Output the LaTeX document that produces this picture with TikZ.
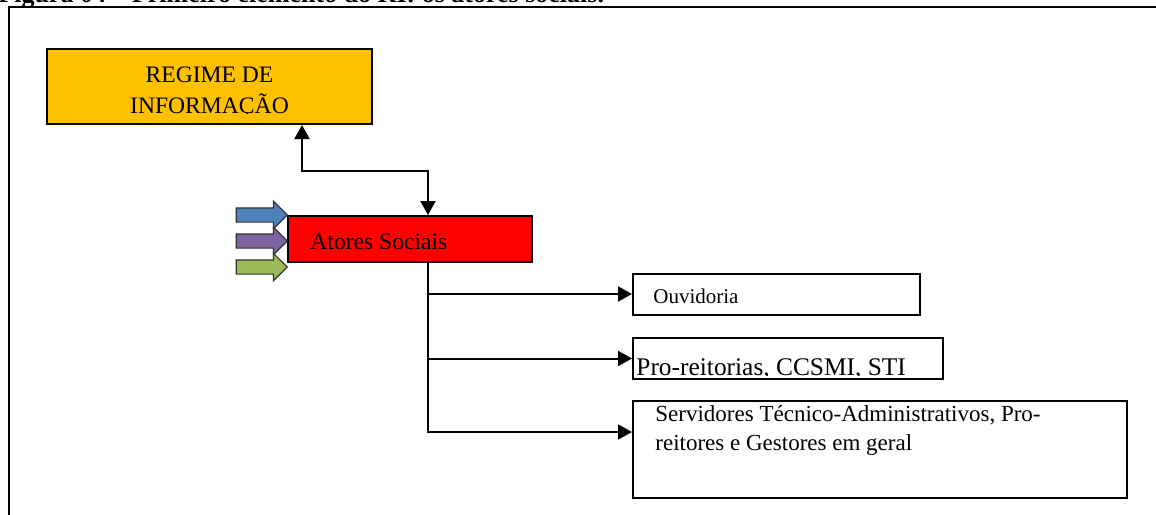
\documentclass[tikz,border=0pt]{standalone}
\usepackage{fontspec}
\setmainfont{Liberation Serif}
\usetikzlibrary{shapes,shapes.arrows,arrows.meta,positioning,calc}

\definecolor{regimeorange}{HTML}{FFC000}
\definecolor{atoresred}{HTML}{FF0000}
\definecolor{inblue}{HTML}{4F81BD}
\definecolor{inpurple}{HTML}{8064A2}
\definecolor{ingreen}{HTML}{9BBB59}

\begin{document}
\begin{tikzpicture}[
    x=1pt, y=-1pt,
    >={Triangle[length=7pt,width=7.5pt]},
    box/.style={rectangle, draw, line width=1pt, inner sep=0pt},
    txt/.style={anchor=base west, inner sep=0pt, align=left},
    inarrow/.style={single arrow, draw=black!80, line width=0.6pt, minimum height=25.5pt, minimum width=13pt, single arrow head extend=3.25pt, inner xsep=0pt, inner ysep=3.25pt, anchor=tip},
    arrow/.style={->, line width=1pt},
    frame/.style={line width=1pt}
]
\useasboundingbox (0,0) rectangle (578,257);
\clip (0,0) rectangle (578,257);

% caption, cut off by the page edge
\node[txt, font=\bfseries\fontsize{13}{15}\selectfont] (caption) at (-1,1.5) {Figura 04 – Primeiro elemento do RI: os atores sociais.};
\draw[frame] (4.25,300) |- (600,3.25);

\node[box, fill=regimeorange, minimum width=162.5pt, minimum height=37.5pt] (regime) at (104.75,43.25) {};
\node[box, fill=atoresred, minimum width=122pt, minimum height=23pt] (atores) at (205,119.5) {};
\node[box, minimum width=143.5pt, minimum height=20.5pt] (ouvidoria) at (388.25,147) {};
\node[box, minimum width=155pt, minimum height=20.5pt] (proreit) at (394,179.25) {};
\node[box, minimum width=247pt, minimum height=48.5pt] (servidores) at (440,224.75) {};

% texts (base = baseline of the last line)
\begin{scope}
    \clip (regime.north west) rectangle ([yshift=6pt]regime.south east);
    \node[txt, align=center, anchor=base, font=\fontsize{11.8}{15.75}\selectfont] (regimetxt) at (104.75,56.75) {REGIME DE\\INFORMAÇÃO};
\end{scope}
\node[txt, font=\fontsize{11.8}{14}\selectfont] (atorestxt) at (155,124.5) {Atores Sociais};
\node[txt, font=\fontsize{10.5}{12}\selectfont] (ouvtxt) at (326.5,151.5) {Ouvidoria};
\begin{scope}
    \clip (proreit.north west) rectangle ([yshift=2.5pt]proreit.south east);
    \node[txt, font=\fontsize{12.7}{15}\selectfont] (protxt) at (318,187.5) {Pro-reitorias, CCSMI, STI};
\end{scope}
\node[txt, font=\fontsize{11.5}{14.5}\selectfont] (servtxt) at (327.5,225) {Servidores Técnico-Administrativos, Pro-\\reitores e Gestores em geral};

% arrows coming in from the left
\foreach \c/\yy [count=\i] in {inblue/107.5, inpurple/120.5, ingreen/133.5}
    \node[inarrow, fill=\c] (in\i) at (144,\yy) {};

\draw[arrow, <->] ([xshift=46.25pt]regime.south) -- ++(0,23) -| ([xshift=9pt]atores.north);
\draw[arrow] ([xshift=9pt]atores.south) |- (ouvidoria.west);
\draw[arrow] ([xshift=9pt]atores.south) |- (proreit.west);
\draw[arrow] ([xshift=9pt]atores.south) |- ([yshift=8.75pt]servidores.west);

\end{tikzpicture}
\end{document}
